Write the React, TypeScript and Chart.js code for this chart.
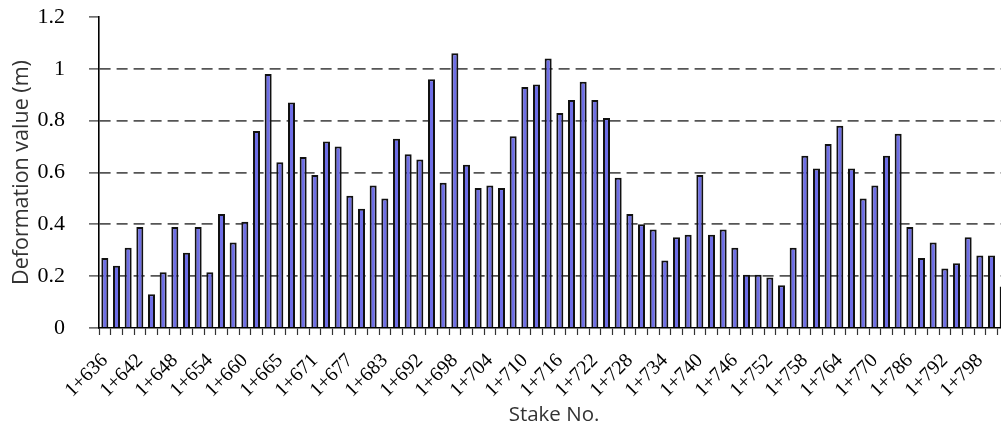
import React, { useEffect, useRef } from "react";
import { Chart, registerables } from "chart.js";

Chart.register(...registerables);

// Stake numbers printed under the axis (one every third bar)
const stakeLabels = [
  "1+636", "1+642", "1+648", "1+654", "1+660", "1+665", "1+671", "1+677",
  "1+683", "1+692", "1+698", "1+704", "1+710", "1+716", "1+722", "1+728",
  "1+734", "1+740", "1+746", "1+752", "1+758", "1+764", "1+770", "1+786",
  "1+792", "1+798",
];

// Deformation value (m) per stake
const deformation = [
  0.27, 0.24, 0.31, 0.39, 0.13, 0.215, 0.39, 0.29, 0.39, 0.215,
  0.44, 0.33, 0.41, 0.76, 0.98, 0.64, 0.87, 0.66, 0.59, 0.72,
  0.70, 0.51, 0.46, 0.55, 0.50, 0.73, 0.67, 0.65, 0.96, 0.56,
  1.06, 0.63, 0.54, 0.55, 0.54, 0.74, 0.93, 0.94, 1.04, 0.83,
  0.88, 0.95, 0.88, 0.81, 0.58, 0.44, 0.40, 0.38, 0.26, 0.35,
  0.36, 0.59, 0.36, 0.38, 0.31, 0.205, 0.205, 0.195, 0.165, 0.31,
  0.665, 0.615, 0.71, 0.78, 0.615, 0.50, 0.55, 0.665, 0.75, 0.39,
  0.27, 0.33, 0.23, 0.25, 0.35, 0.28, 0.28, 0.16,
];

const yTicks = [0, 0.2, 0.4, 0.6, 0.8, 1, 1.2];

const categories = deformation.map((_, i) =>
  i % 3 === 0 && stakeLabels[i / 3] ? stakeLabels[i / 3] : ""
);

export default function App() {
  const canvasRef = useRef<HTMLCanvasElement | null>(null);

  useEffect(() => {
    const canvas = canvasRef.current;
    if (!canvas) return;
    const chart = new Chart(canvas, {
      type: "bar",
      data: {
        labels: categories,
        datasets: [
          {
            data: deformation,
            backgroundColor: "#6e6ee6",
            borderColor: "#111111",
            borderWidth: 2,
            barPercentage: 0.6,
            categoryPercentage: 1,
          },
        ],
      },
      options: {
        animation: false,
        responsive: false,
        maintainAspectRatio: false,
        layout: { padding: { left: 0, right: 0, top: 17, bottom: 0 } },
        plugins: {
          legend: { display: false },
          tooltip: { enabled: false },
        },
        scales: {
          x: {
            type: "category",
            offset: true,
            grid: {
              offset: true,
              drawOnChartArea: false,
              tickLength: 7,
              tickColor: "#333",
              tickWidth: 1.2,
            },
            border: { color: "#000", width: 1.6 },
            ticks: {
              autoSkip: false,
              minRotation: 45,
              maxRotation: 45,
              padding: 14,
              color: "#000",
              font: { family: "'Liberation Serif', serif", size: 20 },
            },
            title: {
              display: true,
              text: "Stake No.",
              color: "#333",
              font: { family: "'Open Sans', sans-serif", size: 20.5 },
              padding: { top: 0, bottom: 1 },
            },
            afterFit: (scale: any) => {
              scale.height = 100;
              scale.paddingLeft = 0;
              scale.paddingRight = 0;
            },
          },
          y: {
            min: 0,
            max: 1.2,
            afterBuildTicks: (scale: any) => {
              scale.ticks = yTicks.map((v) => ({ value: v }));
            },
            grid: {
              color: (ctx: any) =>
                ctx.tick && (ctx.tick.value === 0 || ctx.tick.value === 1.2)
                  ? "rgba(0,0,0,0)"
                  : "#555",
              lineWidth: 1.8,
              tickLength: 10,
              tickColor: "#333",
              tickWidth: 1.2,
              tickBorderDash: [],
            },
            border: { color: "#000", width: 1.6, dash: [11, 6] },
            ticks: {
              padding: 24,
              color: "#000",
              font: { family: "'Liberation Serif', serif", size: 22 },
              callback: (v: any) => String(Number(v)),
            },
            title: {
              display: true,
              text: "Deformation value (m)",
              color: "#333",
              font: { family: "'Open Sans', sans-serif", size: 21.5 },
              padding: { top: 9, bottom: 0 },
            },
            afterFit: (scale: any) => {
              scale.width = 99;
              scale.paddingTop = 0;
              scale.paddingBottom = 0;
            },
          },
        },
      },
    });
    return () => chart.destroy();
  }, []);

  return (
    <div
      style={{
        position: "fixed",
        left: 0,
        top: 0,
        width: 1009,
        height: 428,
        background: "#fff",
      }}
    >
      <canvas ref={canvasRef} width={1009} height={428} />
    </div>
  );
}
